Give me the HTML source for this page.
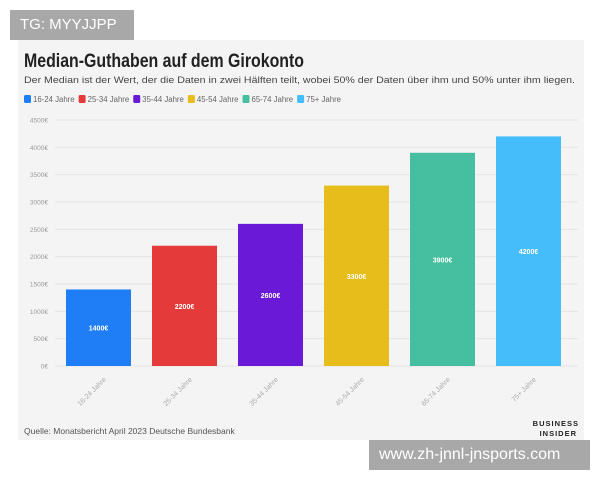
<!DOCTYPE html>
<html><head><meta charset="utf-8"><style>
body{margin:0;width:600px;height:480px;background:#fff;position:relative;overflow:hidden;font-family:"Liberation Sans",sans-serif}
#panel{position:absolute;left:18px;top:40px;width:566px;height:400px;background:#f4f4f4}
.tag{position:absolute;background:#a8a8a8;color:#fff;font-size:15px;line-height:30px;padding:0 10px}
</style></head><body>
<div id="panel"></div>
<div class="tag" style="left:10px;top:10px;width:104px">TG: MYYJJPP</div>
<svg width="600" height="480" style="position:absolute;left:0;top:0" id="chart">
<text x="24" y="67" font-size="19" font-weight="bold" fill="#222" textLength="280" lengthAdjust="spacingAndGlyphs">Median-Guthaben auf dem Girokonto</text>
<text x="24" y="83" font-size="9.6" fill="#444" textLength="551" lengthAdjust="spacingAndGlyphs">Der Median ist der Wert, der die Daten in zwei Hälften teilt, wobei 50% der Daten über ihm und 50% unter ihm liegen.</text>
<g id="legend"></g>
<g id="grid"></g><g id="bars"></g>
<text x="24" y="434" font-size="8.5" fill="#555">Quelle: Monatsbericht April 2023 Deutsche Bundesbank</text>
<text x="579" y="426" font-size="7.5" font-weight="bold" fill="#222" text-anchor="end" letter-spacing="1">BUSINESS</text>
<text x="577" y="436" font-size="7.5" font-weight="bold" fill="#222" text-anchor="end" letter-spacing="1">INSIDER</text>
</svg>
<div class="tag" style="left:369px;top:440px;width:201px;font-size:16px">www.zh-jnnl-jnsports.com</div>
<script>
const categories=["16-24 Jahre","25-34 Jahre","35-44 Jahre","45-54 Jahre","65-74 Jahre","75+ Jahre"];
const values=[1400,2200,2600,3300,3900,4200];
const colors=["#1f7ef5","#e53a3a","#6a1ad6","#e6bd1a","#45bf9f","#45bdfb"];
const ticks=[0,500,1000,1500,2000,2500,3000,3500,4000,4500];
const NS="http://www.w3.org/2000/svg";
function mk(t,a,p,txt){const e=document.createElementNS(NS,t);for(const k in a)e.setAttribute(k,a[k]);if(txt!=null)e.textContent=txt;p.appendChild(e);return e;}
const y=v=>366-v*(246/4500);
const bandX=i=>66+i*86;const bw=65;
const grid=document.getElementById('grid'),bars=document.getElementById('bars'),leg=document.getElementById('legend');
ticks.forEach(t=>{
 const l=mk('line',{x1:55,x2:578,y1:y(t),y2:y(t),stroke:'#e4e4e4','stroke-width':1},grid);
 
 
 const tx=mk('text',{x:48,y:y(t)+2.5,'font-size':6.5,fill:'#999','text-anchor':'end'},grid,t+'€');
 
 
});
let lx=24;
categories.forEach((c,i)=>{
 const r=mk('rect',{x:bandX(i),y:y(values[i]),width:bw,height:y(0)-y(values[i]),fill:colors[i]},bars);
 
 
 const vt=mk('text',{x:bandX(i)+bw/2,y:(y(values[i])+y(0))/2+3,'font-size':7,'font-weight':'bold',fill:'#fff','text-anchor':'middle'},bars,values[i]+'€');
 
 
 const cx=bandX(i)+bw/2+8,cy=380;
 const xt=mk('text',{x:cx,y:cy,'font-size':7,fill:'#aaa','text-anchor':'end',transform:`rotate(-45 ${cx} ${cy})`},bars,c);
 
 
 const sw=mk('rect',{x:lx,y:95,width:7,height:8,rx:1.5,fill:colors[i]},leg);
 
 
 const lt=mk('text',{x:lx+9,y:102,'font-size':7.8,fill:'#666'},leg,c);
 
 
 lx+=9+lt.getComputedTextLength()+4;
});
</script>
</body></html>
